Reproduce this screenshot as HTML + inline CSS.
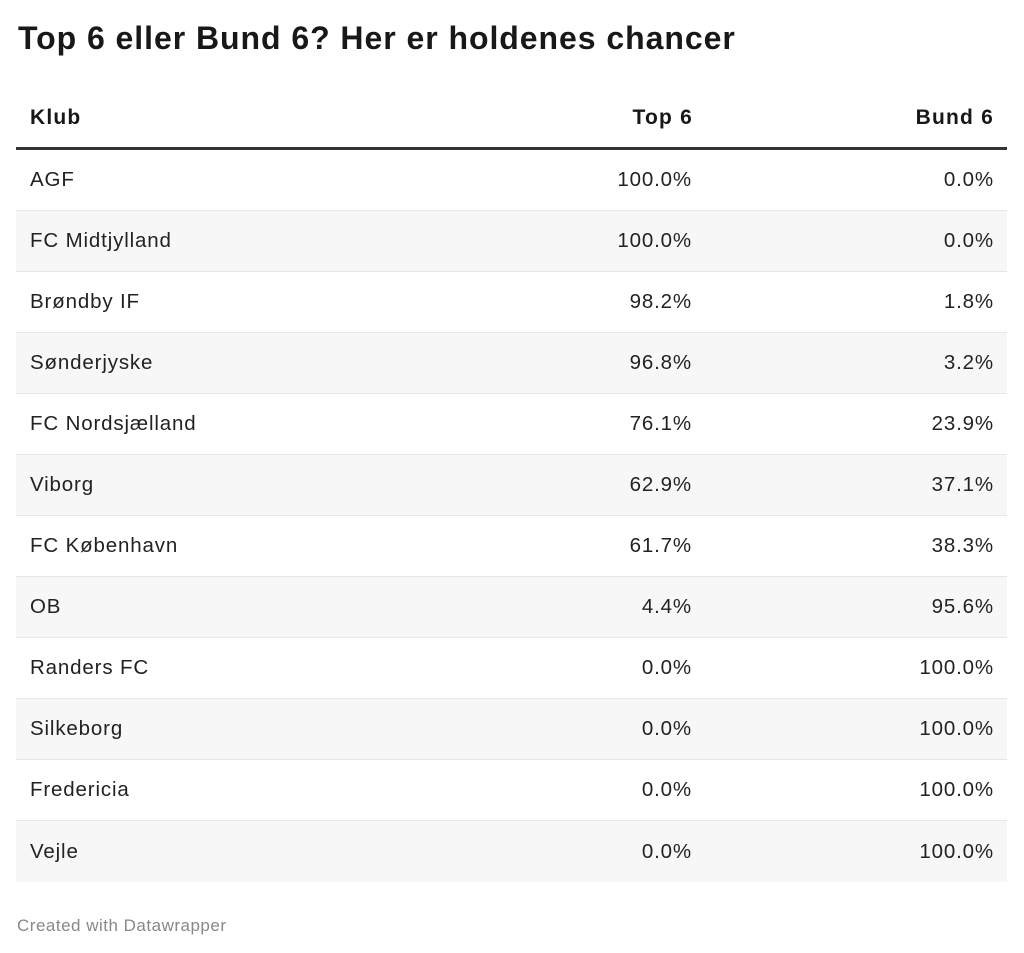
<!DOCTYPE html>
<html>
<head>
<meta charset="utf-8">
<style>
html,body{margin:0;padding:0;background:#fff;}
body{width:1024px;height:953px;position:relative;overflow:hidden;font-family:"Liberation Sans",Arial,sans-serif;color:#222;}
.title{position:absolute;left:18px;top:16px;font-size:32px;font-weight:bold;line-height:44px;color:#181818;white-space:nowrap;letter-spacing:0.95px;}
.hdr{position:absolute;left:16px;top:88px;width:991px;height:59px;border-bottom:3px solid #333;}
.row{position:absolute;left:16px;width:991px;height:60px;border-bottom:1px solid #e6e6e6;}
.row.g{background:#f7f7f7;}
.row.last{border-bottom:none;height:61px;}
.c{position:absolute;top:0;height:100%;display:flex;align-items:center;font-size:20.5px;letter-spacing:0.85px;white-space:nowrap;}
.c1{left:14px;}
.c2{right:315px;}
.c3{right:13px;}
.hdr .c{font-weight:bold;color:#181818;font-size:21px;letter-spacing:1.2px;}
.hdr .c2{right:314px;}
.hdr .c3{right:13px;}
.foot{position:absolute;left:17px;top:914px;font-size:17px;letter-spacing:0.5px;color:#888;line-height:24px;}
</style>
</head>
<body>
<div class="title">Top 6 eller Bund 6? Her er holdenes chancer</div>
<div class="hdr"><div class="c c1">Klub</div><div class="c c2">Top 6</div><div class="c c3">Bund 6</div></div>

<div class="row" style="top:150px"><div class="c c1">AGF</div><div class="c c2">100.0%</div><div class="c c3">0.0%</div></div>
<div class="row g" style="top:211px"><div class="c c1">FC Midtjylland</div><div class="c c2">100.0%</div><div class="c c3">0.0%</div></div>
<div class="row" style="top:272px"><div class="c c1">Brøndby IF</div><div class="c c2">98.2%</div><div class="c c3">1.8%</div></div>
<div class="row g" style="top:333px"><div class="c c1">Sønderjyske</div><div class="c c2">96.8%</div><div class="c c3">3.2%</div></div>
<div class="row" style="top:394px"><div class="c c1">FC Nordsjælland</div><div class="c c2">76.1%</div><div class="c c3">23.9%</div></div>
<div class="row g" style="top:455px"><div class="c c1">Viborg</div><div class="c c2">62.9%</div><div class="c c3">37.1%</div></div>
<div class="row" style="top:516px"><div class="c c1">FC København</div><div class="c c2">61.7%</div><div class="c c3">38.3%</div></div>
<div class="row g" style="top:577px"><div class="c c1">OB</div><div class="c c2">4.4%</div><div class="c c3">95.6%</div></div>
<div class="row" style="top:638px"><div class="c c1">Randers FC</div><div class="c c2">0.0%</div><div class="c c3">100.0%</div></div>
<div class="row g" style="top:699px"><div class="c c1">Silkeborg</div><div class="c c2">0.0%</div><div class="c c3">100.0%</div></div>
<div class="row" style="top:760px"><div class="c c1">Fredericia</div><div class="c c2">0.0%</div><div class="c c3">100.0%</div></div>
<div class="row g last" style="top:821px"><div class="c c1">Vejle</div><div class="c c2">0.0%</div><div class="c c3">100.0%</div></div>

<div class="foot">Created with Datawrapper</div>
</body>
</html>
